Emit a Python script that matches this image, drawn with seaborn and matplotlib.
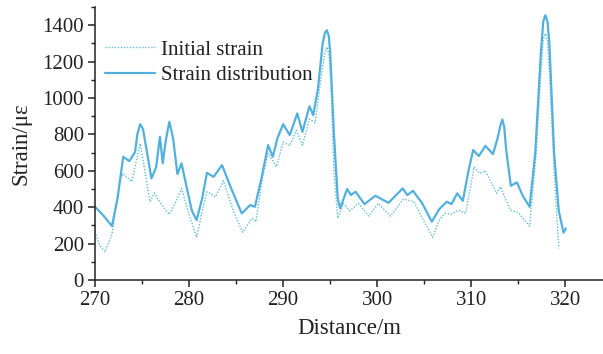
import numpy as np
import pandas as pd
import matplotlib
matplotlib.use("Agg")
import matplotlib.pyplot as plt
import seaborn as sns
from matplotlib.ticker import MultipleLocator

# Strain distribution (solid)
dist_x = [270.0, 270.8, 271.8, 272.4, 273.0, 273.65, 274.26, 274.5, 274.8, 275.1, 275.4, 276.0,
          276.5, 276.9, 277.2, 277.5, 277.9, 278.3, 278.76, 279.2, 279.7, 280.3, 280.8,
          281.4, 281.9, 282.6, 283.5, 284.5, 285.6, 286.5, 287.0, 287.7, 288.4,
          288.9, 289.4, 290.0, 290.7, 291.5, 292.05, 292.8, 293.2, 293.7, 294.2,
          294.45, 294.65, 294.85, 295.0, 295.4, 295.8, 296.06, 296.8, 297.2, 297.7, 298.65, 299.8,
          301.2, 302.7, 303.2, 303.8, 304.8, 305.8, 306.6, 307.4, 307.9, 308.5,
          309.1, 309.7, 310.2, 310.8, 311.5, 312.3, 312.8, 313.1, 313.3, 313.5, 313.7, 314.2,
          314.85, 315.5, 316.2, 316.8, 317.4, 317.65, 317.87, 318.1, 318.3, 318.8, 319.3, 319.8,
          320.05]
dist_y = [402, 360, 296, 450, 677, 653, 704, 800, 856, 830, 740, 558,
          620, 787, 641, 760, 869, 780, 582, 641, 520, 380, 329,
          450, 589, 567, 631, 500, 366, 412, 402, 560, 741,
          677, 780, 856, 796, 915, 814, 955, 906, 1050, 1300,
          1360, 1372, 1340, 1250, 800, 450, 394, 500, 467, 485, 417, 463,
          424, 503, 467, 490, 420, 320, 390, 430, 417, 476,
          435, 600, 714, 681, 737, 692, 780, 850, 882, 840, 720, 518,
          536, 460, 402, 700, 1250, 1420, 1455, 1420, 1300, 700, 380, 260,
          284]

# Initial strain (dotted)
init_x = [270.0, 270.5, 271.06, 271.8, 272.66, 273.0, 273.9, 274.8, 275.3, 275.85,
          276.3, 277.0, 277.9, 278.6, 279.2, 280.0, 280.8, 281.4, 281.9, 282.8,
          283.65, 284.7, 285.7, 286.7, 287.1, 287.8, 288.4, 289.3, 290.0, 290.7,
          291.4, 292.05, 292.8, 293.4, 294.0, 294.4, 294.65, 294.9, 295.1, 295.4, 295.8, 296.4,
          297.1, 298.0, 299.1, 300.1, 301.4, 302.8, 303.9, 304.9, 305.9, 306.6,
          307.2, 307.9, 308.65, 309.4, 310.3, 310.9, 311.5, 312.7, 313.1, 314.15,
          315.0, 316.2, 316.9, 317.4, 317.65, 317.87, 318.1, 318.3, 318.8, 319.3]
init_y = [265, 190, 155, 250, 549, 585, 540, 750, 600, 430,
          479, 420, 360, 430, 503, 360, 234, 380, 485, 457,
          545, 380, 262, 339, 320, 560, 696, 622, 759, 737,
          823, 741, 884, 864, 1100, 1240, 1281, 1230, 1050, 600, 339, 421,
          380, 421, 351, 421, 351, 445, 430, 330, 234, 330,
          366, 362, 384, 366, 622, 585, 600, 476, 512, 384,
          370, 296, 700, 1150, 1320, 1354, 1310, 1150, 600, 174]

x_ticks = [270, 280, 290, 300, 310, 320]
y_ticks = [0, 200, 400, 600, 800, 1000, 1200, 1400]

sns.set_style("ticks")
plt.rcParams['font.family'] = ['Liberation Serif', 'DejaVu Serif']

fig = plt.figure(figsize=(6.03, 3.54), dpi=100)
ax = fig.add_axes([95/603, 74/354, 1 - 95/603, (280 - 7)/354])

df_init = pd.DataFrame({"x": init_x, "y": init_y})
df_dist = pd.DataFrame({"x": dist_x, "y": dist_y})

sns.lineplot(data=df_init, x="x", y="y", ax=ax, color="#62bccf", lw=1.0,
             linestyle=(0, (1, 1.2)), label="Initial strain", sort=False)
sns.lineplot(data=df_dist, x="x", y="y", ax=ax, color="#52b0de", lw=1.6,
             label="Strain distribution", sort=False)

ax.set_xlim(270, 324)
ax.set_ylim(0, 1500)
ax.set_xticks(x_ticks)
ax.set_yticks(y_ticks)
ax.xaxis.set_minor_locator(MultipleLocator(5))
ax.yaxis.set_minor_locator(MultipleLocator(100))
ax.tick_params(axis='both', which='major', direction='out', length=5, width=1.1,
               labelsize=15, colors='#222222', pad=3)
ax.tick_params(axis='both', which='minor', direction='out', length=3, width=1.0,
               colors='#222222')
for s in ['top', 'right']:
    ax.spines[s].set_visible(False)
for s in ['left', 'bottom']:
    ax.spines[s].set_linewidth(1.1)
    ax.spines[s].set_color('#222222')

ax.set_xlabel("Distance/m", fontsize=16.5, color='#222222', labelpad=6)
ax.set_ylabel("Strain/με", fontsize=16.5, color='#222222', labelpad=8)

leg = ax.legend(loc='upper left', bbox_to_anchor=(-0.005, 0.925), frameon=False,
                fontsize=15, handlelength=2.4, handletextpad=0.3,
                borderaxespad=0.2, labelspacing=0.3)
for t in leg.get_texts():
    t.set_color('#222222')

fig.savefig("out.png", dpi=100)
